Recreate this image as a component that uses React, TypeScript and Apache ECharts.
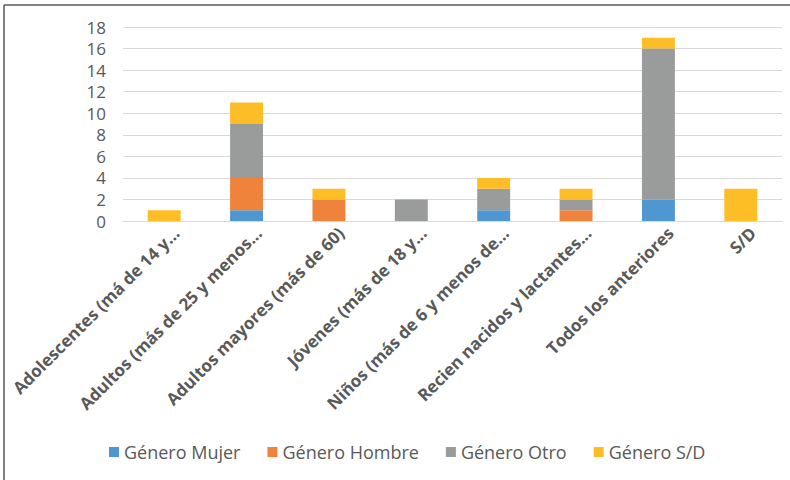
import React, { useEffect, useRef } from "react";
import * as echarts from "echarts";

const categories = [
  "Adolescentes (má de 14 y...",
  "Adultos (más de 25 y menos...",
  "Adultos mayores (más de 60)",
  "Jóvenes (más de 18 y...",
  "Niños (más de 6 y menos de...",
  "Recien nacidos y lactantes...",
  "Todos los anteriores",
  "S/D",
];
const seriesNames = ["Género Mujer", "Género Hombre", "Género Otro", "Género S/D"];
const mujer = [0, 1, 0, 0, 1, 0, 2, 0];
const hombre = [0, 3, 2, 0, 0, 1, 0, 0];
const otro = [0, 5, 0, 2, 2, 1, 14, 0];
const sd = [1, 2, 1, 0, 1, 1, 1, 3];
const colors = ["#4f97d1", "#f0833c", "#9a9c9c", "#fdbd27"];

export default function App() {
  const ref = useRef<HTMLDivElement>(null);
  useEffect(() => {
    if (!ref.current) return;
    const chart = echarts.init(ref.current, null, { renderer: "svg" });
    const data = [mujer, hombre, otro, sd];
    chart.setOption({
      animation: false,
      backgroundColor: "#ffffff",
      textStyle: { fontFamily: "Open Sans" },
      grid: {
        left: 123,
        right: 8,
        top: 27,
        bottom: 259,
        containLabel: false,
        outerBoundsMode: "none",
      },
      legend: {
        bottom: 14,
        left: 104,
        itemWidth: 10,
        itemHeight: 10,
        itemGap: 27,
        icon: "rect",
        textStyle: { fontSize: 18, color: "#595959", fontFamily: "Open Sans" },
        data: seriesNames,
      },
      xAxis: {
        type: "category",
        data: categories,
        axisLine: { lineStyle: { color: "#d9d9d9", width: 1 } },
        axisTick: { show: false },
        axisLabel: {
          rotate: 45,
          interval: 0,
          margin: 21,
          padding: [0, -17, 0, 0],
          fontSize: 17,
          fontWeight: "bold",
          color: "#595959",
          fontFamily: "Open Sans",
        },
      },
      yAxis: {
        type: "value",
        min: 0,
        max: 18,
        interval: 2,
        axisLine: { show: false },
        axisTick: { show: false },
        splitLine: { lineStyle: { color: "#d9d9d9", width: 1 } },
        axisLabel: { fontSize: 17, color: "#595959", margin: 17, fontFamily: "Open Sans" },
      },
      series: seriesNames.map((name, i) => ({
        name,
        type: "bar",
        stack: "total",
        barWidth: "40%",
        data: data[i],
        itemStyle: { color: colors[i] },
      })),
      graphic: [
        { type: "line", shape: { x1: 4, y1: 5, x2: 790, y2: 5 }, style: { stroke: "#595959", lineWidth: 1.5 } },
        { type: "line", shape: { x1: 4, y1: 5, x2: 4, y2: 480 }, style: { stroke: "#595959", lineWidth: 1.5 } },
      ],
    });
    return () => chart.dispose();
  }, []);
  return (
    <div
      ref={ref}
      style={{ position: "fixed", left: 0, top: 0, width: 790, height: 480 }}
    />
  );
}
